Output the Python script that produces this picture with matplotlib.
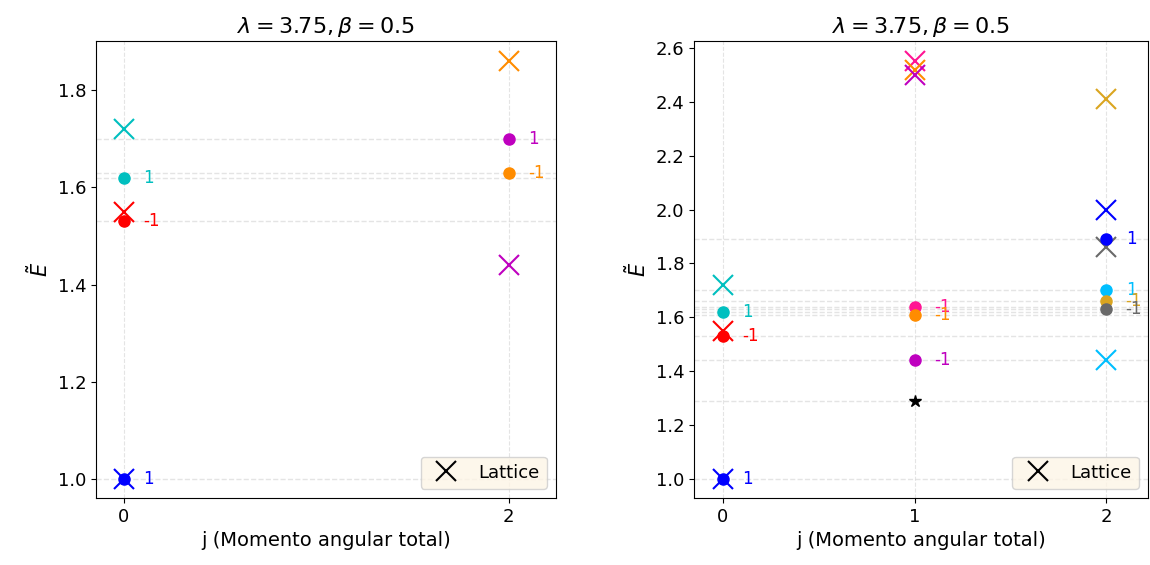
import matplotlib
matplotlib.use("Agg")
import matplotlib.pyplot as plt
from matplotlib.lines import Line2D

# left panel: j = 0, 2
l_j = [0, 0, 0, 2, 2]
l_E = [1.62, 1.53, 1.00, 1.70, 1.63]
l_par = ["1", "-1", "1", "1", "-1"]
l_col = ["c", "r", "b", "m", "darkorange"]
l_lat_j = [0, 0, 0, 2, 2]
l_lat_E = [1.72, 1.55, 1.00, 1.86, 1.44]
l_lat_col = ["c", "r", "b", "darkorange", "m"]

# right panel: j = 0, 1, 2
r_j = [0, 0, 0, 1, 1, 1, 2, 2, 2, 2]
r_E = [1.62, 1.53, 1.00, 1.64, 1.61, 1.44, 1.89, 1.70, 1.66, 1.63]
r_par = ["1", "-1", "1", "-1", "-1", "-1", "1", "1", "-1", "-1"]
r_col = ["c", "r", "b", "deeppink", "darkorange", "m",
         "b", "deepskyblue", "goldenrod", "dimgray"]
r_lat_j = [0, 0, 0, 1, 1, 1, 2, 2, 2, 2]
r_lat_E = [1.72, 1.55, 1.00, 2.55, 2.52, 2.50, 2.41, 2.00, 1.86, 1.44]
r_lat_col = ["c", "r", "b", "deeppink", "darkorange", "m",
             "goldenrod", "b", "dimgray", "deepskyblue"]
star_j = [1]
star_E = [1.29]

fig = plt.figure(figsize=(11.5, 5.65), dpi=100)
ax1 = fig.add_axes([0.0835, 0.1186, 0.400, 0.8088])
ax2 = fig.add_axes([0.6035, 0.1186, 0.3945, 0.8088])


def panel(ax, js, Es, pars, cols, ljs, lEs, lcols, xt):
    for E in Es:
        ax.axhline(E, color="lightgray", ls="--", lw=1, alpha=0.6, zorder=0)
    for j, E, c in zip(ljs, lEs, lcols):
        ax.plot(j, E, "x", color=c, ms=14, mew=1.5)
    for j, E, p, c in zip(js, Es, pars, cols):
        ax.plot(j, E, "o", color=c, ms=8)
        ax.text(j + 0.1, E, p, color=c, fontsize=12, va="center")
    ax.set_xticks(xt)
    ax.grid(axis="x", ls="--", color="lightgray", alpha=0.6)
    ax.set_title(r"$\lambda=3.75, \beta=0.5$", fontsize=16)
    ax.set_xlabel("j (Momento angular total)", fontsize=14)
    ax.set_ylabel(r"$\tilde{E}$", fontsize=15)
    ax.tick_params(labelsize=13)
    h = [Line2D([], [], marker="x", color="k", ls="none", ms=14, mew=1.5)]
    ax.legend(h, ["Lattice"], loc="lower right", fontsize=13,
              facecolor="oldlace", framealpha=0.8)


panel(ax1, l_j, l_E, l_par, l_col, l_lat_j, l_lat_E, l_lat_col, [0, 2])
ax1.set_xlim(-0.145, 2.245)
ax1.set_ylim(0.961, 1.901)
ax1.set_yticks([1.0, 1.2, 1.4, 1.6, 1.8])

ax2.axhline(star_E[0], color="lightgray", ls="--", lw=1, alpha=0.6, zorder=0)
ax2.plot(star_j, star_E, "*", color="k", ms=9)
panel(ax2, r_j, r_E, r_par, r_col, r_lat_j, r_lat_E, r_lat_col, [0, 1, 2])
ax2.set_xlim(-0.15, 2.215)
ax2.set_ylim(0.929, 2.626)
ax2.set_yticks([1.0, 1.2, 1.4, 1.6, 1.8, 2.0, 2.2, 2.4, 2.6])

fig.savefig("out.png", dpi=100)
